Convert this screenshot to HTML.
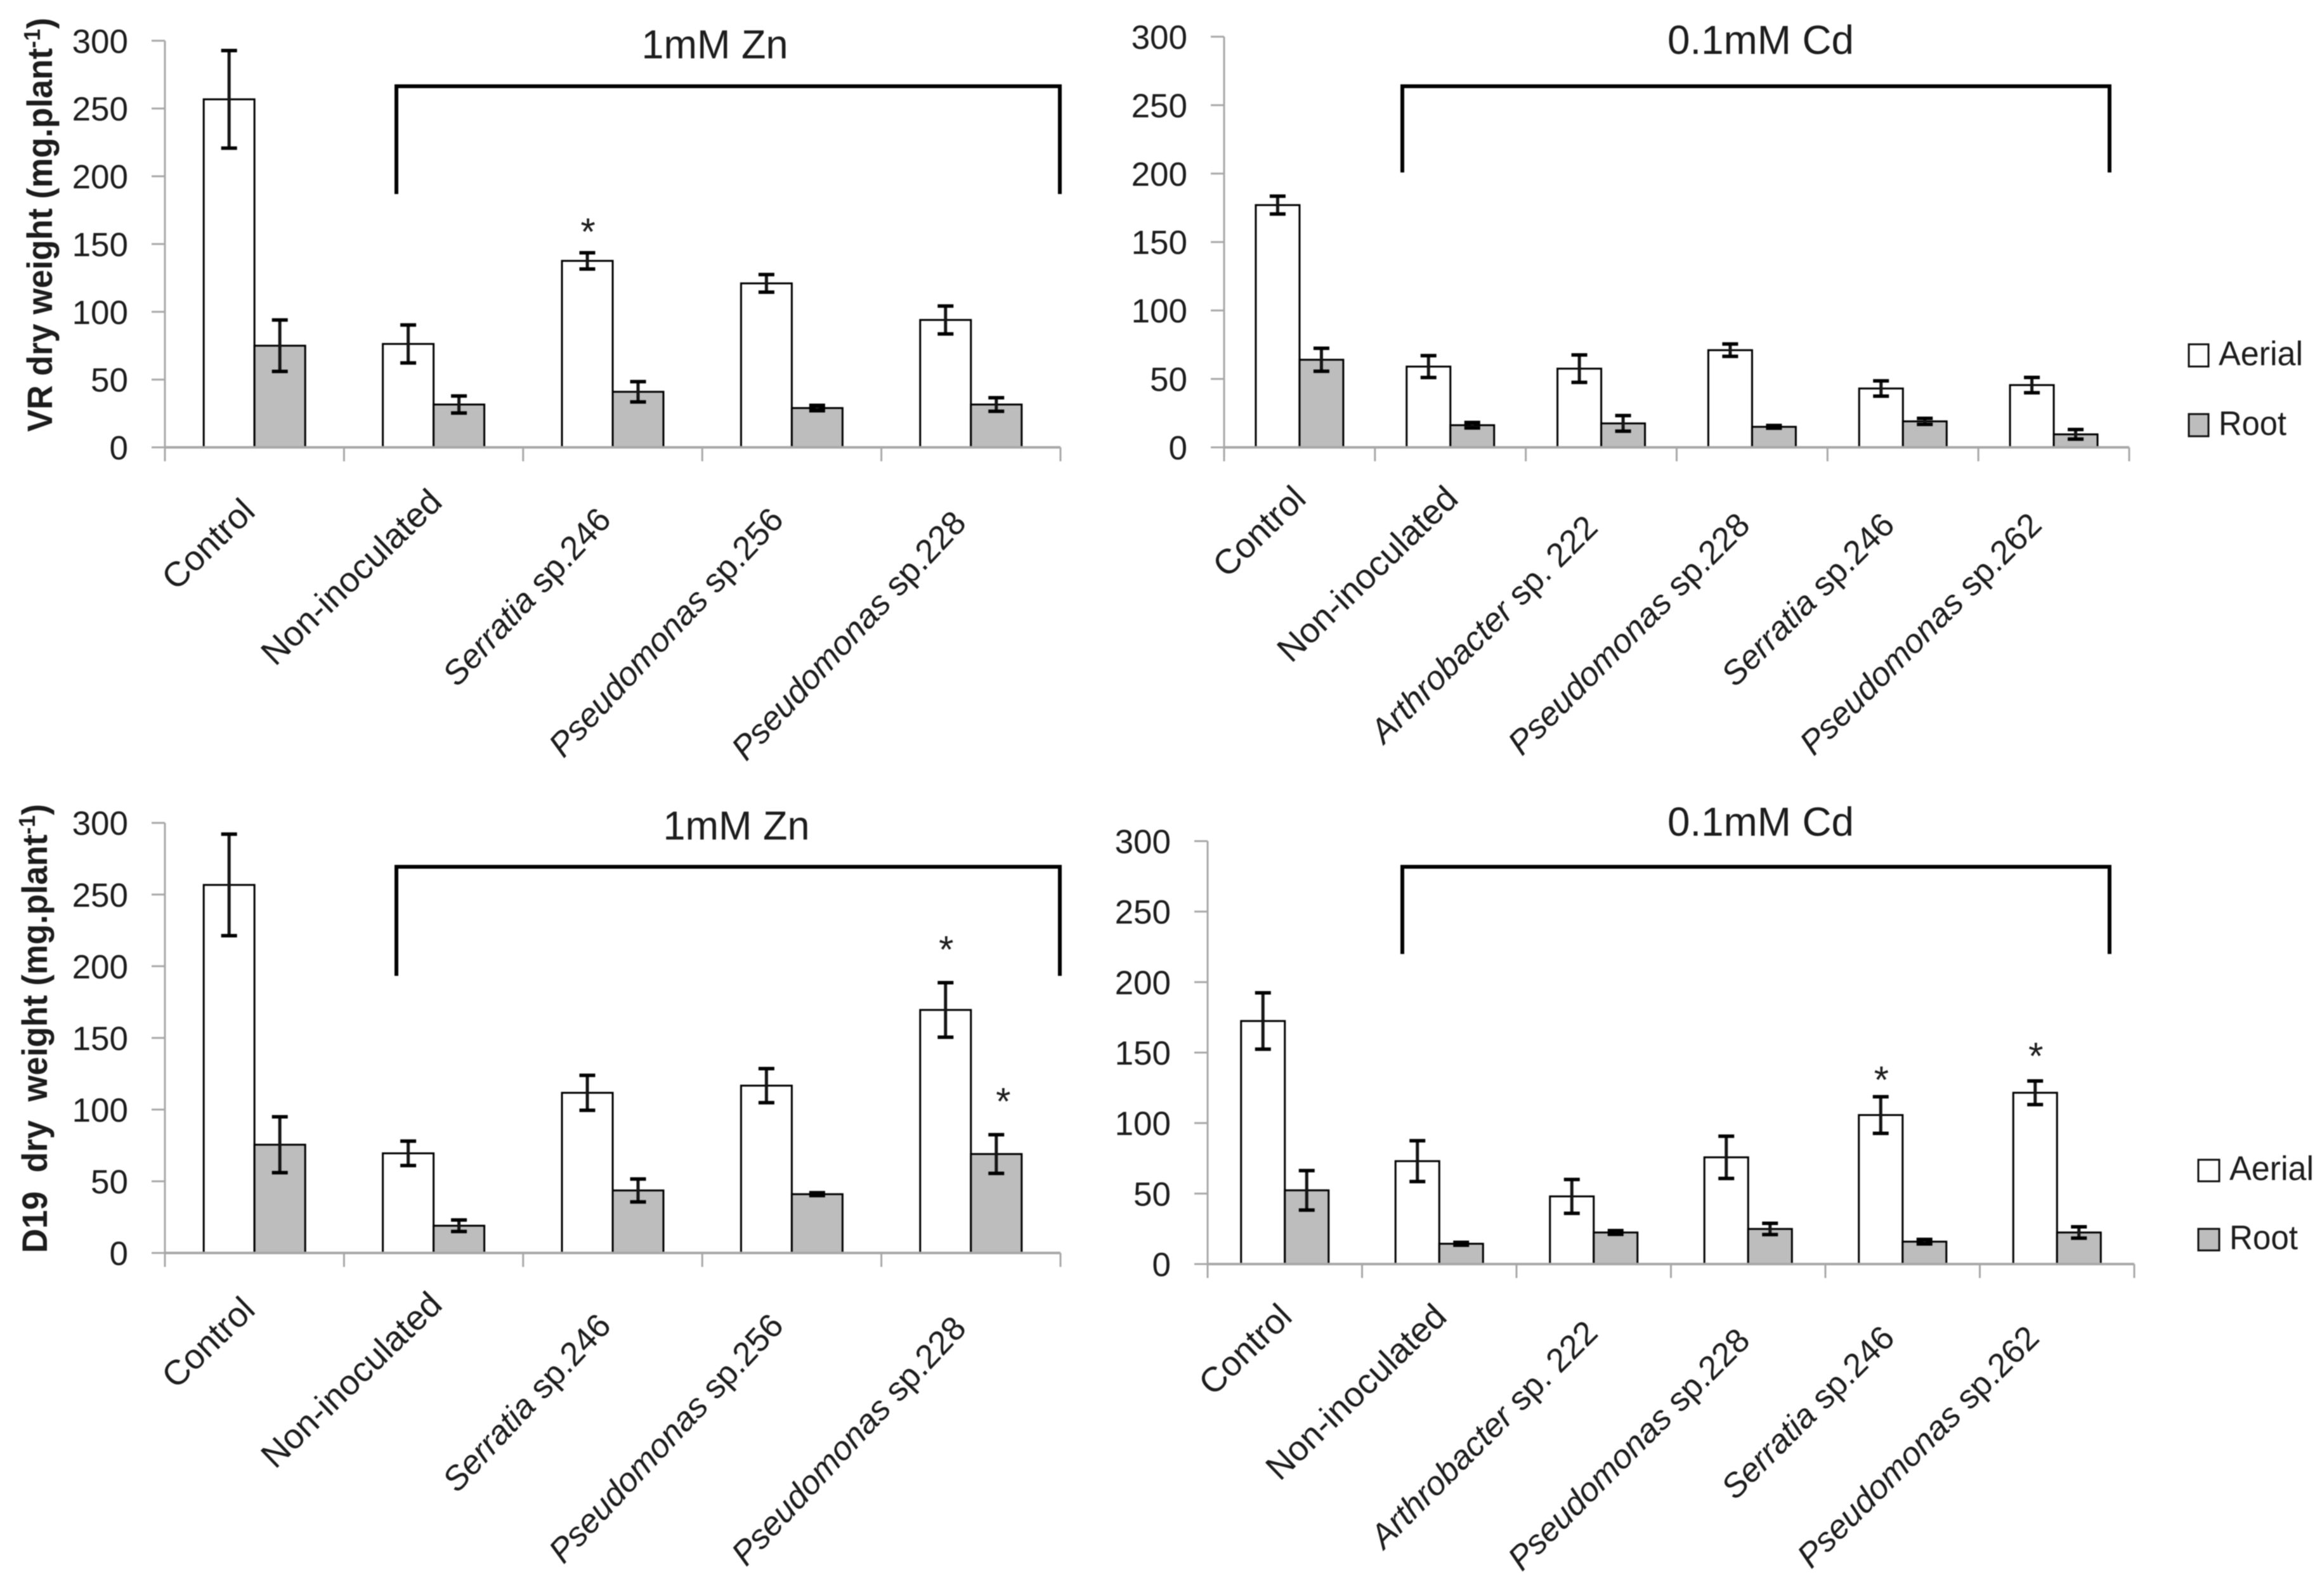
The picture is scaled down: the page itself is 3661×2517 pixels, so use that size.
<!DOCTYPE html>
<html lang="en">
<head>
<meta charset="utf-8">
<title>Dry weight of VR and D19 under Zn and Cd</title>
<style>
  html, body { margin: 0; padding: 0; background: #fff; }
  #figure { display: block; width: 3661px; height: 2517px; filter: blur(0.8px); }
  text { font-family: "Liberation Sans", sans-serif; fill: #1c1c1c; }
</style>
</head>
<body>
<svg id="figure" xmlns="http://www.w3.org/2000/svg" width="3661" height="2517" viewBox="0 0 3661 2517">
  <rect x="0" y="0" width="3661" height="2517" fill="#ffffff"/>
</svg>
<script>
// ---- shared values ----
const yTickValues = [0, 50, 100, 150, 200, 250, 300];
const zincCategories = ['|Control', '|Non-inoculated', 'Serratia| sp.246', 'Pseudomonas| sp.256', 'Pseudomonas| sp.228'];
const cadmiumCategories = ['|Control', '|Non-inoculated', 'Arthrobacter| sp. 222', 'Pseudomonas| sp.228', 'Serratia| sp.246', 'Pseudomonas| sp.262'];

// ---- VR, 1mM Zn ----
const vrZnAerial = [256.8, 76.3, 137.6, 121, 94];
const vrZnAerialErr = [36, 14, 6, 6.5, 10.3];
const vrZnRoot = [75, 31.6, 41, 29, 31.6];
const vrZnRootErr = [19, 6.3, 7.5, 2, 5];
const vrZnStars = [[2, 0, 162.5]];

// ---- VR, 0.1mM Cd ----
const vrCdAerial = [177, 59, 57.5, 71, 43, 45.5];
const vrCdAerialErr = [6.5, 8, 10, 4.5, 5.6, 5.6];
const vrCdRoot = [64, 16.2, 17.5, 15, 19, 9.5];
const vrCdRootErr = [8.4, 2, 5.7, 1, 2.2, 3.5];
const vrCdStars = [];

// ---- D19, 1mM Zn ----
const d19ZnAerial = [256.7, 69.5, 111.7, 116.7, 169.5];
const d19ZnAerialErr = [35.4, 8.5, 12.2, 11.9, 19];
const d19ZnRoot = [75.5, 19, 43.6, 41, 69];
const d19ZnRootErr = [19.5, 4, 8, 1, 13.5];
const d19ZnStars = [[4, 0, 215], [4, 1, 109]];

// ---- D19, 0.1mM Cd ----
const d19CdAerial = [172.4, 73, 48, 75.7, 105.7, 121.5];
const d19CdAerialErr = [20, 14.5, 12, 15, 13, 8.4];
const d19CdRoot = [52.3, 14.4, 22.4, 24.9, 15.9, 22.4];
const d19CdRootErr = [14, 1, 1.3, 4, 1.6, 4];
const d19CdStars = [[4, 0, 134], [5, 0, 151]];

const svg = document.getElementById('figure');
const NS = 'http://www.w3.org/2000/svg';

function make(tag, attrs, parent) {
  const el = document.createElementNS(NS, tag);
  for (const k in attrs) el.setAttribute(k, attrs[k]);
  (parent || svg).appendChild(el);
  return el;
}

function slug(s) {
  return s.replace(/[^A-Za-z0-9]+/g, '-').replace(/^-|-$/g, '').toLowerCase();
}

function drawChart(p) {
  const root = make('g', {});
  
  

  const xStep = (p.xR - p.xL) / p.categories.length;
  const xCenter = i => p.xL + xStep * (i + 0.5);
  const yScale = v => p.y0 - v * (p.y0 - p.y300) / 300;

  // bars
  const drawSeries = (values, fill, seriesName, side) => {
    values.forEach((v, i) => {
      const x = side === 0 ? xCenter(i) - p.barW : xCenter(i);
      const bar = make('rect', { x: x, y: yScale(v), width: p.barW, height: p.y0 - yScale(v), fill: fill, stroke: '#000', 'stroke-width': 3 }, root);
      
      
    });
  };
  drawSeries(p.aerial, '#ffffff', 'aerial', 0);
  drawSeries(p.rootSeries, '#bdbdbd', 'root', 1);

  // axes
  const axisColor = '#a8a8a8';
  const yAxis = make('line', { x1: p.xL, x2: p.xL, y1: p.y300, y2: p.y0, stroke: axisColor, 'stroke-width': 3 }, root);
  
  
  const xAxis = make('line', { x1: p.xL, x2: p.xR, y1: p.y0, y2: p.y0, stroke: axisColor, 'stroke-width': 4 }, root);
  
  

  yTickValues.forEach(v => {
    const t = make('line', { x1: p.xL - 21, x2: p.xL, y1: yScale(v), y2: yScale(v), stroke: axisColor, 'stroke-width': 3 }, root);
    
    
    const lab = make('text', { x: p.xL - 58, y: yScale(v) + 19, 'text-anchor': 'end', 'font-size': 53 }, root);
    
    
    lab.textContent = v;
  });
  for (let i = 0; i <= p.categories.length; i++) {
    const x = p.xL + xStep * i;
    const t = make('line', { x1: x, x2: x, y1: p.y0, y2: p.y0 + 22, stroke: axisColor, 'stroke-width': 3 }, root);
    
    
  }

  // error bars
  const drawErrors = (values, errs, side, seriesName) => {
    values.forEach((v, i) => {
      const x = xCenter(i) + (side === 0 ? -p.barW / 2 : p.barW / 2);
      const g = make('g', { stroke: '#000' }, root);
      
      
      const hi = yScale(v + errs[i]), lo = yScale(v - errs[i]);
      make('line', { x1: x, x2: x, y1: hi, y2: lo, 'stroke-width': 5, stroke: '#151515' }, g);
      make('line', { x1: x - 12.5, x2: x + 12.5, y1: hi, y2: hi, 'stroke-width': 5.5 }, g);
      make('line', { x1: x - 12.5, x2: x + 12.5, y1: lo, y2: lo, 'stroke-width': 5.5 }, g);
    });
  };
  drawErrors(p.aerial, p.aerialErr, 0, 'aerial');
  drawErrors(p.rootSeries, p.rootErr, 1, 'root');

  // category labels
  p.categories.forEach((c, i) => {
    const parts = c.split('|');
    const ax = p.labelAnchors[i][0], ay = p.labelAnchors[i][1];
    const angle = parts[0] ? p.italicAngle : 44;
    const size = parts[0] ? 53 : 55;
    const t = make('text', { x: 0, y: 0, 'text-anchor': 'end', 'font-size': size, transform: 'translate(' + ax + ' ' + ay + ') rotate(' + (-angle) + ')' }, root);
    
    
    if (parts[0]) {
      const it = make('tspan', { 'font-style': 'italic' }, t);
      it.textContent = parts[0];
    }
    const rest = make('tspan', {}, t);
    rest.textContent = parts[1];
  });

  // treatment title
  const title = make('text', { x: p.titleX, y: p.titleY, 'text-anchor': 'middle', 'font-size': 64, textLength: p.titleLen, lengthAdjust: 'spacingAndGlyphs' }, root);
  
  
  title.textContent = p.title;

  // bracket
  const br = make('path', { d: 'M' + p.brL + ' ' + p.brB + 'V' + p.brT + 'H' + p.brR + 'V' + p.brB, fill: 'none', stroke: '#000', 'stroke-width': 6 }, root);
  
  

  // significance stars
  p.stars.forEach(s => {
    const x = xCenter(s[0]) + (s[1] === 0 ? -p.barW / 2 + 1 : p.barW / 2 + 11);
    const st = make('text', { x: x, y: yScale(s[2]) + 28, 'text-anchor': 'middle', 'font-size': 60, fill: '#333' }, root);
    
    
    st.textContent = '*';
  });

  // y axis title
  if (p.yTitle) {
    const cx = p.yTitleX, cy = p.yTitleStart;
    const yt = make('text', { x: 0, y: 0, 'font-size': 56, 'font-weight': 'bold', transform: 'translate(' + cx + ' ' + cy + ') rotate(-90)', textLength: p.yTitleLen, lengthAdjust: 'spacingAndGlyphs', 'xml:space': 'preserve', style: 'white-space:pre' }, root);
    
    
    const a = make('tspan', {}, yt);
    a.textContent = p.yTitle + ' (mg.plant';
    const sup = make('tspan', { dy: -19, 'font-size': 36 }, yt);
    sup.textContent = '-1';
    const b = make('tspan', { dy: 19 }, yt);
    b.textContent = ')';
  }

  // legend
  if (p.legend) {
    const g = make('g', {}, root);
    
    
    const l = p.legend;
    const s1 = make('rect', { x: l.x, y: l.y1, width: l.w, height: l.h, fill: '#fff', stroke: '#111', 'stroke-width': 3 }, g);
    
    
    const t1 = make('text', { x: l.tx, y: l.b1, 'font-size': 54, textLength: l.w1, lengthAdjust: 'spacingAndGlyphs' }, g);
    
    
    t1.textContent = 'Aerial';
    const s2 = make('rect', { x: l.x, y: l.y2, width: l.w, height: l.h, fill: '#bdbdbd', stroke: '#111', 'stroke-width': 3 }, g);
    
    
    const t2 = make('text', { x: l.tx, y: l.b2, 'font-size': 54, textLength: l.w2, lengthAdjust: 'spacingAndGlyphs' }, g);
    
    
    t2.textContent = 'Root';
  }
}

drawChart({
  id: 'vr-zn', categories: zincCategories, aerial: vrZnAerial, aerialErr: vrZnAerialErr, rootSeries: vrZnRoot, rootErr: vrZnRootErr, stars: vrZnStars,
  xL: 260, xR: 1672, y0: 705.5, y300: 64.3, barW: 80, italicAngle: 47,
  title: '1mM Zn', titleX: 1127, titleY: 92, titleLen: 231,
  brL: 625, brR: 1671, brT: 136, brB: 306,
  yTitle: 'VR dry weight', yTitleX: 82, yTitleStart: 681, yTitleLen: 653,
  labelAnchors: [[405, 810], [700, 795], [966, 822], [1238, 822], [1526, 827]]
});
drawChart({
  id: 'vr-cd', categories: cadmiumCategories, aerial: vrCdAerial, aerialErr: vrCdAerialErr, rootSeries: vrCdRoot, rootErr: vrCdRootErr, stars: vrCdStars,
  xL: 1930, xR: 3357, y0: 705.5, y300: 57.9, barW: 69, italicAngle: 45,
  title: '0.1mM Cd', titleX: 2776, titleY: 85, titleLen: 294,
  brL: 2211, brR: 3326, brT: 136, brB: 272,
  labelAnchors: [[2062, 790], [2302, 790], [2522, 835], [2762, 831], [2990, 831], [3222, 831]],
  legend: { x: 3451, y1: 543, y2: 653, w: 31, h: 35, tx: 3498, b1: 576, b2: 686, w1: 133, w2: 107 }
});
drawChart({
  id: 'd19-zn', categories: zincCategories, aerial: d19ZnAerial, aerialErr: d19ZnAerialErr, rootSeries: d19ZnRoot, rootErr: d19ZnRootErr, stars: d19ZnStars,
  xL: 260, xR: 1672, y0: 1976, y300: 1297.7, barW: 80, italicAngle: 47,
  title: '1mM Zn', titleX: 1161, titleY: 1324, titleLen: 231,
  brL: 625, brR: 1671, brT: 1367, brB: 1539,
  yTitle: 'D19  dry  weight', yTitleX: 74, yTitleStart: 1976, yTitleLen: 708,
  labelAnchors: [[405, 2069], [700, 2061], [966, 2093], [1238, 2093], [1526, 2097]]
});
drawChart({
  id: 'd19-cd', categories: cadmiumCategories, aerial: d19CdAerial, aerialErr: d19CdAerialErr, rootSeries: d19CdRoot, rootErr: d19CdRootErr, stars: d19CdStars,
  xL: 1904, xR: 3365, y0: 1993.5, y300: 1326.5, barW: 69, italicAngle: 45,
  title: '0.1mM Cd', titleX: 2776, titleY: 1318, titleLen: 294,
  brL: 2211, brR: 3326, brT: 1367, brB: 1504.5,
  labelAnchors: [[2040, 2080], [2284, 2080], [2522, 2105], [2762, 2117], [2990, 2113], [3218, 2113]],
  legend: { x: 3466, y1: 1829, y2: 1938, w: 33, h: 34, tx: 3515, b1: 1861, b2: 1970, w1: 133, w2: 108 }
});
</script>
</body>
</html>
